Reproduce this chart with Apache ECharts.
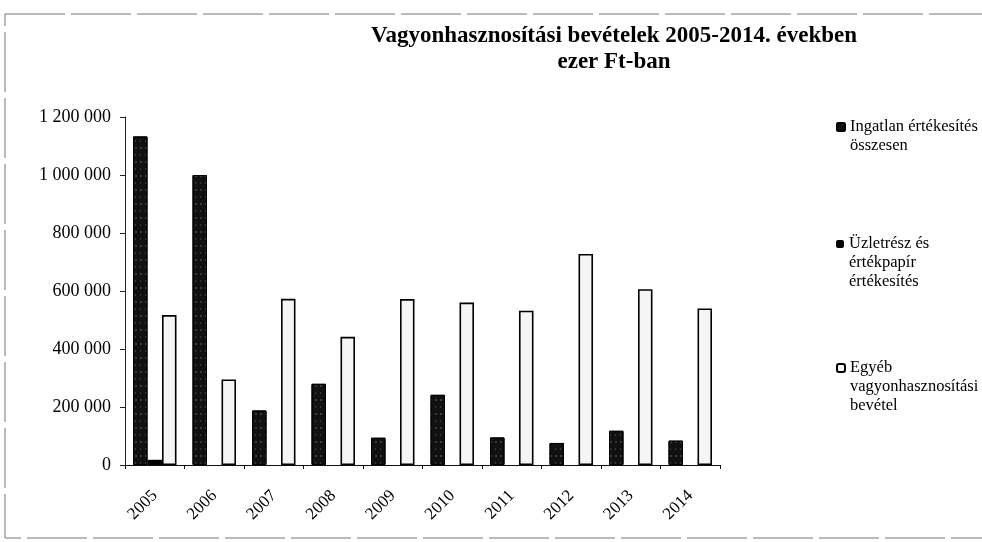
<!DOCTYPE html>
<html>
<head>
<meta charset="utf-8">
<script src="https://cdn.jsdelivr.net/npm/echarts@6/dist/echarts.min.js"></script>
<style>
  html, body { margin: 0; padding: 0; background: #fff; }
  #myChart { width: 982px; height: 542px; }
</style>
</head>
<body>
<div id="myChart"></div>
<script>
  // adatok (ezer Ft)
  var years = ['2005', '2006', '2007', '2008', '2009', '2010', '2011', '2012', '2013', '2014']
  var seriesNames = ['Ingatlan értékesítés összesen', 'Üzletrész és értékpapír értékesítés', 'Egyéb vagyonhasznosítási bevétel']
  var ingatlan = [1133000, 1000000, 188000, 280000, 94000, 242000, 95000, 76000, 118000, 84000]
  var uzletresz = [18000, 0, 0, 0, 0, 0, 0, 0, 0, 0]
  var egyeb = [517000, 295000, 573000, 442000, 572000, 560000, 532000, 728000, 606000, 540000]
  var yTicks = [0, 200000, 400000, 600000, 800000, 1000000, 1200000]

  // legend sortörések
  var legendLines = {
    'Ingatlan értékesítés összesen': ['Ingatlan értékesítés', 'összesen'],
    'Üzletrész és értékpapír értékesítés': ['Üzletrész és', 'értékpapír', 'értékesítés'],
    'Egyéb vagyonhasznosítási bevétel': ['Egyéb', 'vagyonhasznosítási', 'bevétel']
  }

  var serif = '"Liberation Serif", "DejaVu Serif", serif'
  var lineH = 19

  function spaced (v) {
    return String(v).replace(/\B(?=(\d{3})+(?!\d))/g, ' ')
  }

  // üres sorok elöl, hogy az ikon az első sor mellé kerüljön
  function legendText (nm) {
    var lines = legendLines[nm]
    var pad = []
    for (var i = 1; i < lines.length; i++) pad.push('\u00a0')
    return pad.concat(lines).join('\n')
  }

  function makeLegend (name, iconY) {
    var n = legendLines[name].length
    return {
      data: [name],
      orient: 'vertical',
      left: 836,
      top: iconY - (2 * n - 1) * lineH / 2,
      padding: 0,
      itemWidth: 8,
      itemHeight: 8,
      itemGap: 0,
      selectedMode: false,
      formatter: legendText,
      textStyle: {
        fontFamily: serif,
        fontSize: 16.5,
        lineHeight: lineH,
        color: '#000'
      }
    }
  }

  var myChart = echarts.init(document.getElementById('myChart'))

  var option = {
    backgroundColor: '#fff',
    animation: false,
    title: {
      text: 'Vagyonhasznosítási bevételek 2005-2014. években\nezer Ft-ban',
      left: 614,
      top: 23,
      padding: 0,
      textAlign: 'center',
      textStyle: {
        fontFamily: serif,
        fontWeight: 'bold',
        fontSize: 23,
        lineHeight: 26,
        color: '#000'
      }
    },
    legend: [
      makeLegend(seriesNames[0], 127),
      makeLegend(seriesNames[1], 244),
      makeLegend(seriesNames[2], 368)
    ],
    grid: {
      left: 125,
      right: 262,
      top: 117,
      bottom: 77,
      containLabel: false
    },
    xAxis: {
      type: 'category',
      data: years,
      axisLine: { lineStyle: { color: '#111', width: 1 } },
      axisTick: { show: true, length: 4, lineStyle: { color: '#111' } },
      axisLabel: {
        rotate: 45,
        margin: 28,
        fontFamily: serif,
        fontSize: 17,
        color: '#000'
      }
    },
    yAxis: {
      type: 'value',
      min: yTicks[0],
      max: yTicks[yTicks.length - 1],
      interval: yTicks[1] - yTicks[0],
      axisLine: { show: true, lineStyle: { color: '#222', width: 1 } },
      axisTick: { show: true, length: 5, lineStyle: { color: '#222' } },
      splitLine: { show: false },
      axisLabel: {
        margin: 14,
        fontFamily: serif,
        fontSize: 18,
        color: '#000',
        formatter: spaced
      }
    },
    series: [
      {
        name: seriesNames[0],
        type: 'bar',
        data: ingatlan,
        barWidth: 14.5,
        barGap: '0%',
        itemStyle: {
          color: '#111',
          borderColor: '#000',
          borderWidth: 1,
          decal: {
            symbol: 'rect',
            symbolSize: 0.6,
            color: 'rgba(255,255,255,0.6)',
            dashArrayX: [[2, 3], [1, 4]],
            dashArrayY: [2, 5],
            rotation: 0
          }
        }
      },
      {
        name: seriesNames[1],
        type: 'bar',
        data: uzletresz,
        barWidth: 14.5,
        barGap: '0%',
        itemStyle: { color: '#000' }
      },
      {
        name: seriesNames[2],
        type: 'bar',
        data: egyeb,
        barWidth: 14.5,
        barGap: '0%',
        itemStyle: {
          color: '#f5f5f5',
          borderColor: '#000',
          borderWidth: 1.6
        }
      }
    ],
    graphic: [
      {
        // a szkennelt diagram kerete
        type: 'rect',
        silent: true,
        shape: { x: 5, y: 14, width: 1000, height: 524 },
        style: { fill: 'none', stroke: '#777', lineWidth: 1, lineDash: [60, 6] }
      }
    ]
  }

  myChart.setOption(option, true)
</script>
</body>
</html>
